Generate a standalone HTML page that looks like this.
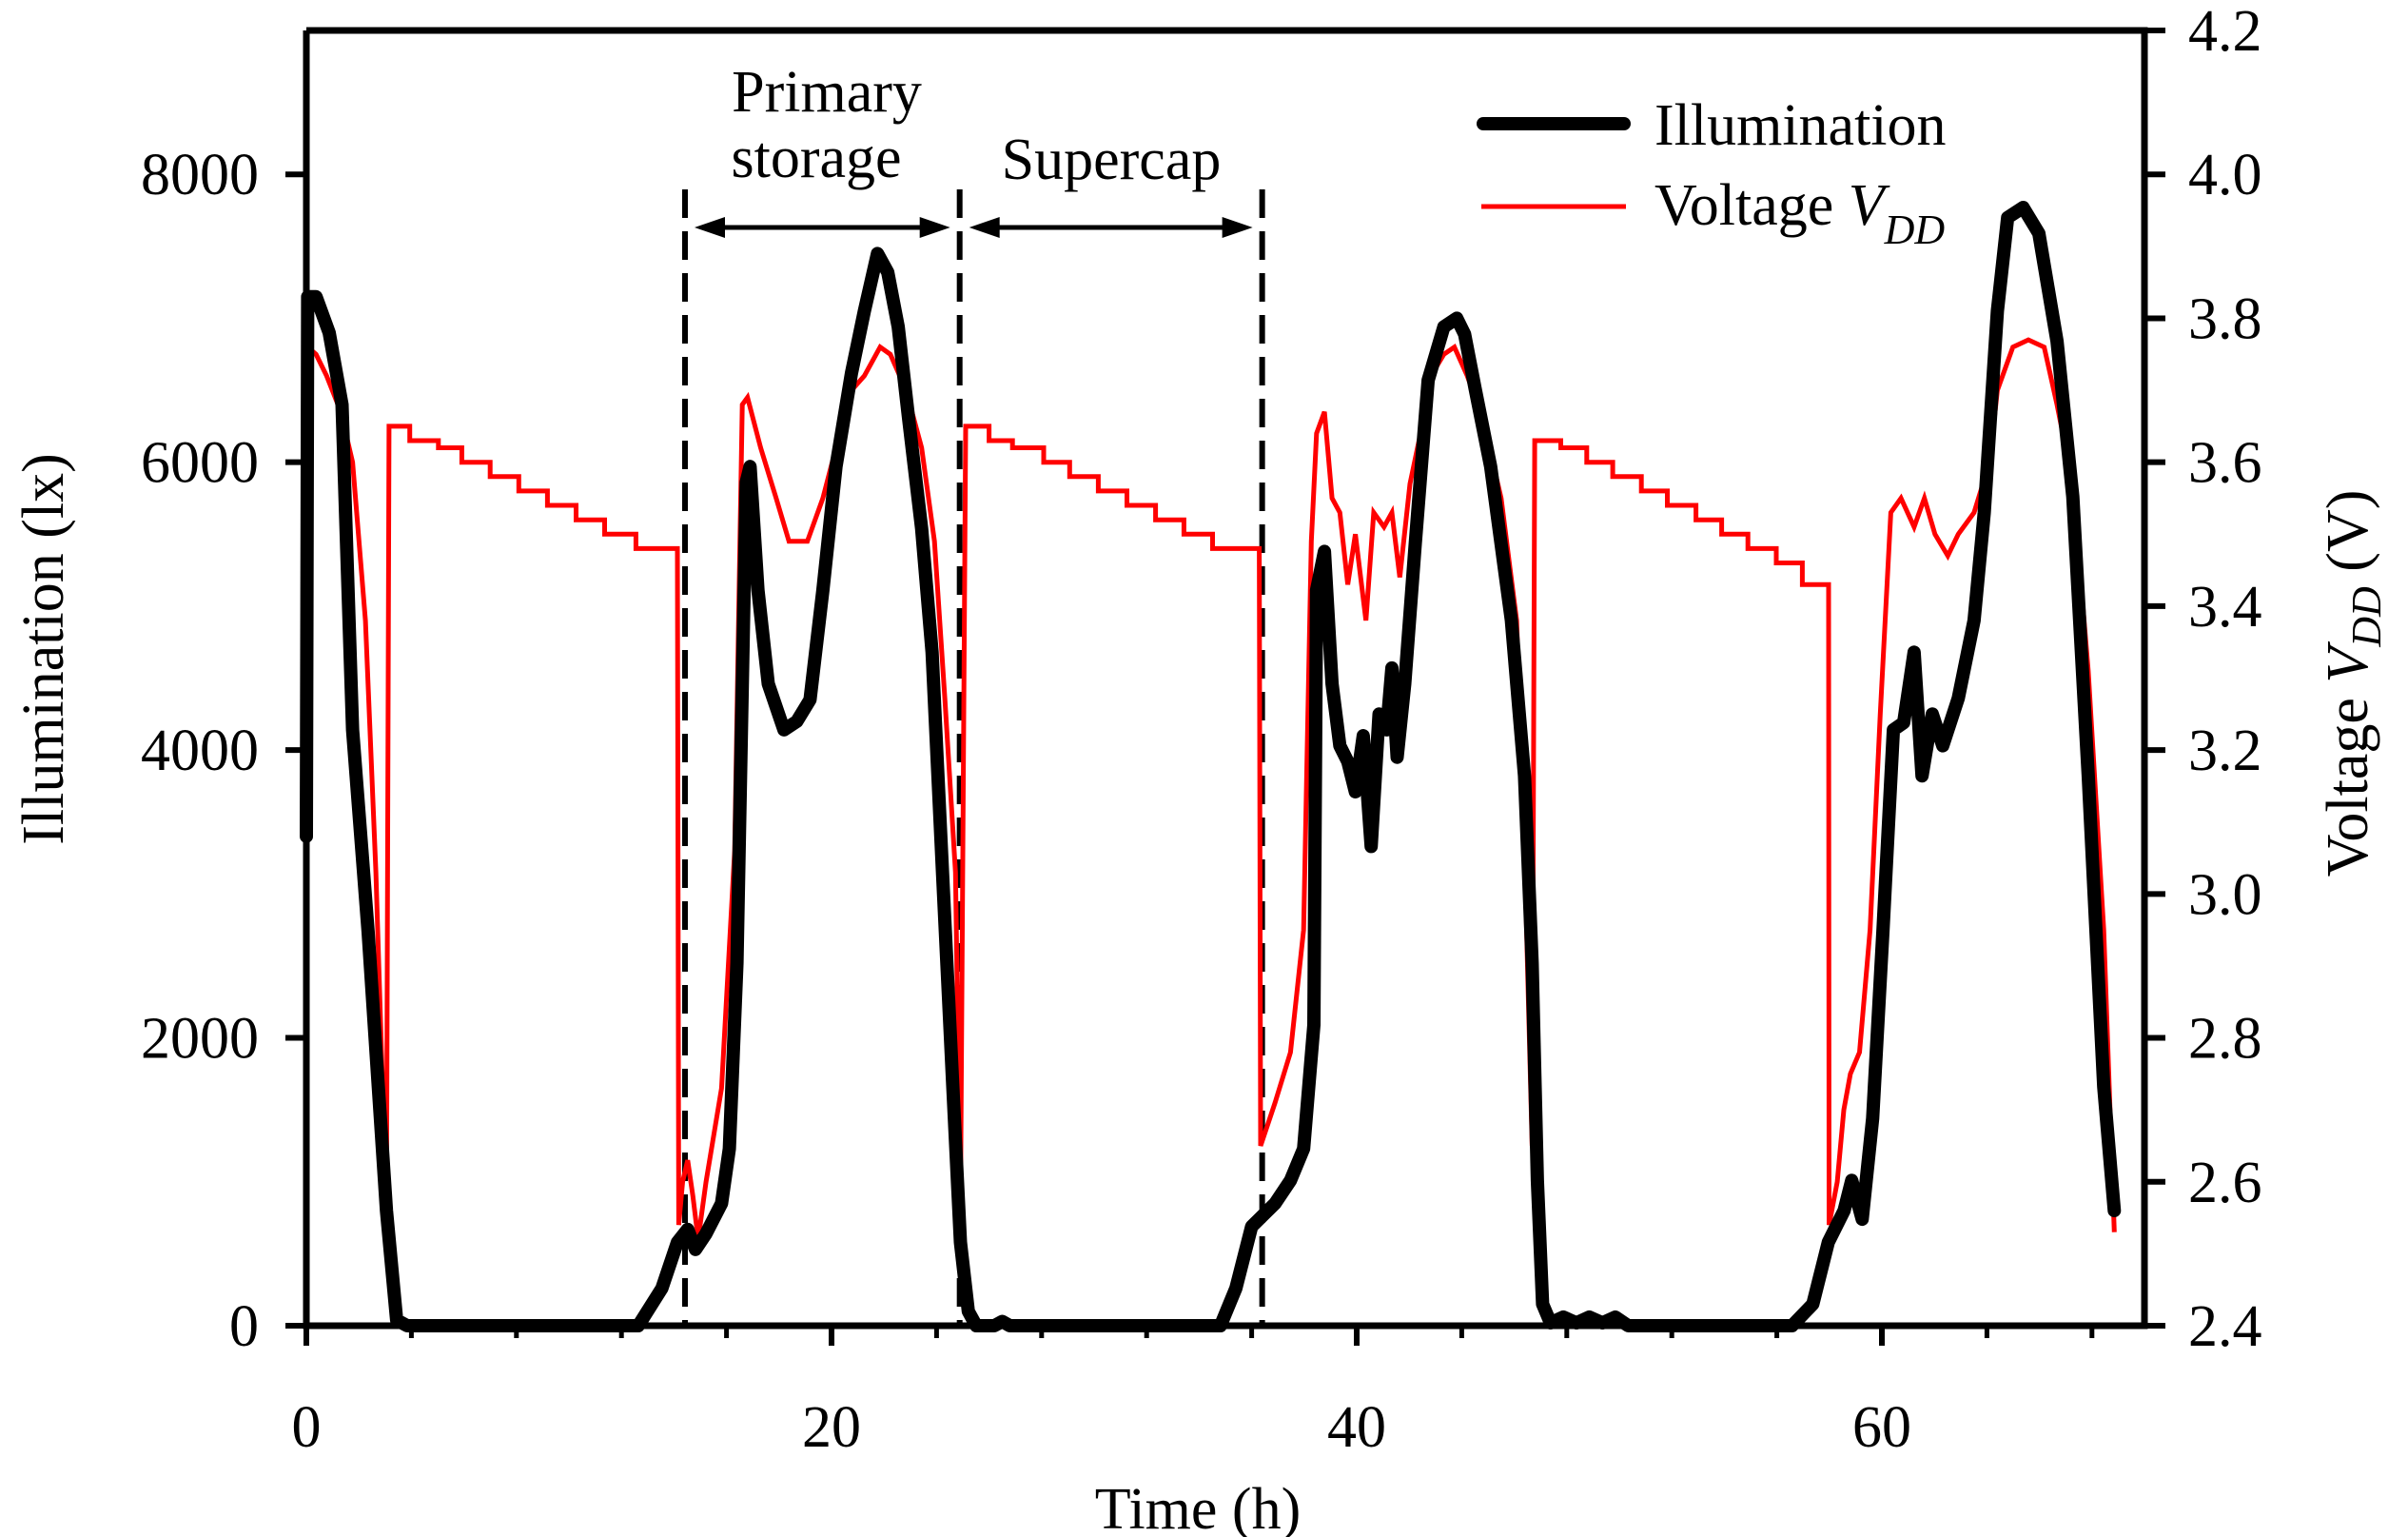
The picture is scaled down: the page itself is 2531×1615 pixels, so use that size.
<!DOCTYPE html>
<html><head><meta charset="utf-8"><style>
html,body{margin:0;padding:0;background:#fff}
svg{display:block}
text{font-family:"Liberation Serif","Times New Roman",serif;fill:#000}
</style></head><body>
<svg id="chart" width="2531" height="1615" viewBox="0 0 2531 1615">
<g id="marks"></g>
<g id="axes"></g>
</svg>
<script>
const xTicks=[0,20,40,60];
const xMinor=[4,8,12,16,24,28,32,36,44,48,52,56,64,68];
const lxTicks=[0,2000,4000,6000,8000];
const vTicks=[2.4,2.6,2.8,3.0,3.2,3.4,3.6,3.8,4.0,4.2];
const illumT=[0,0.05,0.37,0.87,1.36,1.76,2.35,3.05,3.44,3.84,12.64,13.54,14.13,14.52,14.82,15.22,15.81,16.11,16.4,16.75,16.9,17.2,17.59,18.19,18.68,19.18,19.67,20.17,20.76,21.25,21.75,22.14,22.54,22.94,23.43,23.83,24.22,24.62,24.91,25.21,25.51,26.2,26.5,26.79,34.81,35.4,36.0,36.89,37.48,37.98,38.37,38.47,38.77,39.06,39.36,39.66,39.95,40.25,40.55,40.85,41.14,41.34,41.54,41.83,42.23,42.72,43.32,43.81,44.11,44.51,45.1,45.89,46.39,46.68,46.88,47.08,47.38,47.87,48.37,48.86,49.36,49.85,50.34,56.58,57.37,57.96,58.56,58.85,59.25,59.65,60.04,60.44,60.83,61.23,61.53,61.92,62.32,62.91,63.51,63.9,64.4,64.79,65.38,65.98,66.67,67.27,67.86,68.45,68.85];
const illumV=[3400,7150,7150,6900,6400,4140,2740,800,40,0,0,260,580,670,530,640,850,1230,2520,5860,5970,5110,4460,4140,4200,4350,5110,5970,6620,7050,7450,7320,6940,6300,5540,4680,3170,1660,580,100,0,0,30,0,0,260,690,850,1010,1230,2090,5110,5380,4460,4030,3920,3710,4100,3330,4250,4140,4570,3950,4460,5430,6570,6940,7000,6890,6510,5970,4900,3820,2520,1010,150,20,60,20,60,20,60,0,0,150,580,800,1010,740,1440,2740,4140,4190,4680,3820,4250,4030,4360,4900,5650,7050,7700,7770,7590,6840,5760,3820,1660,800];
const voltT=[0,0.05,0.37,0.77,1.31,1.76,2.25,2.65,3.05];
const voltV=[2.95,3.76,3.75,3.72,3.67,3.6,3.38,3.03,2.56];
const step1T=[3.15,3.94,5.03,5.92,7.0,8.09,9.18,10.27,11.36,12.55,14.13];
const step1V=[3.65,3.63,3.62,3.60,3.58,3.56,3.54,3.52,3.50,3.48];
const day1T=[14.18,14.33,14.52,14.72,14.92,15.22,15.81,16.31,16.6,16.8,17.3,17.89,18.38,19.08,19.67,20.17,20.76,21.25,21.85,22.24,22.84,23.43,23.92,24.32,24.72,24.91];
const day1V=[2.54,2.6,2.63,2.58,2.52,2.6,2.73,3.06,3.68,3.69,3.62,3.55,3.49,3.49,3.55,3.62,3.70,3.72,3.76,3.75,3.70,3.62,3.49,3.27,3.03,2.56];
const step2T=[25.11,26.0,26.89,28.08,29.07,30.16,31.25,32.34,33.42,34.51,36.29];
const step2V=[3.65,3.63,3.62,3.60,3.58,3.56,3.54,3.52,3.50,3.48];
const day2T=[36.34,36.89,37.48,37.98,38.27,38.47,38.77,39.06,39.36,39.66,39.95,40.35,40.65,41.04,41.34,41.64,42.03,42.43,42.83,43.32,43.72,44.21,44.8,45.5,46.09,46.39,46.68];
const day2V=[2.65,2.71,2.78,2.95,3.49,3.64,3.67,3.55,3.53,3.43,3.50,3.38,3.53,3.51,3.53,3.44,3.57,3.64,3.72,3.75,3.76,3.72,3.66,3.55,3.38,3.06,2.65];
const step3T=[46.78,47.77,48.76,49.75,50.84,51.83,52.92,53.9,54.9,55.98,56.97,57.97];
const step3V=[3.63,3.62,3.60,3.58,3.56,3.54,3.52,3.50,3.48,3.46,3.43];
const day3T=[57.99,58.3,58.55,58.8,59.15,59.55,59.94,60.34,60.73,61.23,61.62,62.02,62.51,62.91,63.51,64.1,64.4,64.99,65.58,66.18,66.67,67.27,67.86,68.45,68.85];
const day3V=[2.54,2.6,2.7,2.75,2.78,2.95,3.25,3.53,3.55,3.51,3.55,3.50,3.47,3.50,3.53,3.60,3.70,3.76,3.77,3.76,3.68,3.57,3.31,2.95,2.53];
const phaseT=[14.42,24.88,36.4];

const NS='http://www.w3.org/2000/svg';
const X=t=>322+t*27.6;
const YL=v=>1393-v/9000*1361;
const YR=v=>1393-(v-2.4)/1.8*1361;
const marks=document.getElementById('marks');
const axes=document.getElementById('axes');
function mk(tag,attrs,parent){const e=document.createElementNS(NS,tag);for(const k in attrs)e.setAttribute(k,attrs[k]);parent.appendChild(e);return e;}

phaseT.forEach((t,i)=>{
  const l=mk('line',{x1:X(t),x2:X(t),y1:199,y2:1393,stroke:'#000','stroke-width':6,'stroke-dasharray':'30,14'},marks);
  
  
});
function arrow(t1,t2,name){
  const g=mk('g',{},marks);
  
  
  const x1=X(t1)+10,x2=X(t2)-10,y=239;
  mk('line',{x1:x1+10,x2:x2-10,y1:y,y2:y,stroke:'#000','stroke-width':5},g);
  mk('path',{d:`M${x1},${y} L${x1+32},${y-11} L${x1+32},${y+11}Z`,fill:'#000'},g);
  mk('path',{d:`M${x2},${y} L${x2-32},${y-11} L${x2-32},${y+11}Z`,fill:'#000'},g);
}
arrow(phaseT[0],phaseT[1],'primary-storage-arrow');
arrow(phaseT[1],phaseT[2],'supercap-arrow');

let vpts=[];
voltT.forEach((t,i)=>vpts.push([X(t),YR(voltV[i])]));
function addSteps(T,V){
  for(let i=0;i<V.length;i++){vpts.push([X(T[i]),YR(V[i])]);vpts.push([X(T[i+1]),YR(V[i])]);}
}
function addDay(T,V){T.forEach((t,i)=>vpts.push([X(t),YR(V[i])]));}
addSteps(step1T,step1V);addDay(day1T,day1V);
addSteps(step2T,step2V);addDay(day2T,day2V);
addSteps(step3T,step3V);addDay(day3T,day3V);
const vp=mk('path',{d:'M'+vpts.map(p=>p[0].toFixed(1)+','+p[1].toFixed(1)).join(' L'),fill:'none',stroke:'#ff0000','stroke-width':5,'stroke-linejoin':'miter'},marks);



const ip=mk('path',{d:'M'+illumT.map((t,i)=>X(t).toFixed(1)+','+YL(illumV[i]).toFixed(1)).join(' L'),fill:'none',stroke:'#000','stroke-width':14,'stroke-linejoin':'round','stroke-linecap':'round'},marks);



const fr=mk('path',{d:'M322,32 L322,1393 L2254,1393 L2254,32 L322,32',fill:'none',stroke:'#000','stroke-width':7},axes);



xTicks.forEach(t=>{
  mk('line',{x1:X(t),x2:X(t),y1:1393,y2:1414,stroke:'#000','stroke-width':6},axes);
  const tx=mk('text',{x:X(t),y:1520,'font-size':62,'text-anchor':'middle'},axes);
  tx.textContent=t;
  
  
});
xMinor.forEach(t=>{mk('line',{x1:X(t),x2:X(t),y1:1393,y2:1406,stroke:'#000','stroke-width':5},axes);});
lxTicks.forEach(v=>{
  mk('line',{x1:300,x2:322,y1:YL(v),y2:YL(v),stroke:'#000','stroke-width':6},axes);
  const tx=mk('text',{x:272,y:YL(v)+21,'font-size':62,'text-anchor':'end'},axes);
  tx.textContent=v;
  
  
});
vTicks.forEach(v=>{
  mk('line',{x1:2254,x2:2276,y1:YR(v),y2:YR(v),stroke:'#000','stroke-width':6},axes);
  const tx=mk('text',{x:2300,y:YR(v)+21,'font-size':62},axes);
  tx.textContent=v.toFixed(1);
  
  
});
</script>
<svg style="position:absolute;left:0;top:0" width="2531" height="1615">
<text x="1259" y="1606" font-size="62" text-anchor="middle">Time (h)</text>
<text transform="translate(66,682) rotate(-90)" font-size="62" text-anchor="middle">Illumination (lx)</text>
<text transform="translate(2488,718) rotate(-90)" font-size="62" text-anchor="middle">Voltage <tspan font-style="italic">V</tspan><tspan font-style="italic" font-size="44" dy="14">DD</tspan><tspan dy="-14"> (V)</tspan></text>
<text x="869" y="117" font-size="62" text-anchor="middle">Primary</text>
<text x="858" y="186" font-size="62" text-anchor="middle">storage</text>
<text x="1168" y="188" font-size="62" text-anchor="middle">Supercap</text>
<g>
<line x1="1559" x2="1707" y1="130" y2="130" stroke="#000" stroke-width="14" stroke-linecap="round"/>
<text x="1739" y="152" font-size="62">Illumination</text>
<line x1="1557" x2="1709" y1="217" y2="217" stroke="#ff0000" stroke-width="5"/>
<text x="1739" y="236" font-size="62">Voltage <tspan font-style="italic">V</tspan><tspan font-style="italic" font-size="44" dy="20">DD</tspan></text>
</g>
</svg>
</body></html>
